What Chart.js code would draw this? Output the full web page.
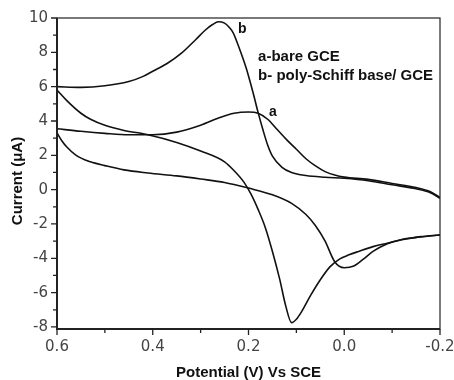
<!DOCTYPE html>
<html>
<head>
<meta charset="utf-8">
<script src="https://cdn.jsdelivr.net/npm/chart.js@4.4.0/dist/chart.umd.min.js"></script>
<style>
  html, body { margin: 0; padding: 0; background: #fff; }
</style>
</head>
<body>
<canvas id="cv" width="454" height="380"></canvas>
<script>
// a - bare GCE, forward sweep (upper branch)
const potA1 = [0.60, 0.55, 0.50, 0.45, 0.40, 0.35, 0.30, 0.26, 0.23, 0.20, 0.18, 0.16, 0.14, 0.12, 0.10, 0.08, 0.06, 0.04, 0.02, 0.00, -0.05, -0.10, -0.15, -0.18, -0.20];
const curA1 = [3.55, 3.40, 3.28, 3.20, 3.20, 3.35, 3.75, 4.20, 4.45, 4.52, 4.45, 4.10, 3.50, 2.90, 2.35, 1.80, 1.38, 1.05, 0.85, 0.73, 0.60, 0.36, 0.12, -0.12, -0.45];
// a - bare GCE, reverse sweep (lower branch)
const potA2 = [0.60, 0.59, 0.58, 0.56, 0.53, 0.50, 0.46, 0.41, 0.35, 0.30, 0.25, 0.20, 0.15, 0.11, 0.08, 0.06, 0.04, 0.02, 0.00, -0.02, -0.04, -0.06, -0.09, -0.12, -0.15, -0.20];
const curA2 = [3.30, 2.85, 2.50, 2.00, 1.62, 1.40, 1.15, 0.97, 0.80, 0.62, 0.42, 0.09, -0.30, -0.80, -1.45, -2.10, -3.00, -4.20, -4.55, -4.45, -4.05, -3.60, -3.15, -2.90, -2.78, -2.64];
// b - poly-Schiff base/GCE, forward sweep
const potB1 = [0.60, 0.55, 0.50, 0.45, 0.42, 0.40, 0.37, 0.34, 0.31, 0.29, 0.275, 0.263, 0.25, 0.24, 0.232, 0.22, 0.205, 0.19, 0.18, 0.17, 0.16, 0.15, 0.13, 0.11, 0.08, 0.04, 0.00, -0.05, -0.10, -0.15, -0.18, -0.20];
const curB1 = [6.00, 5.96, 6.05, 6.30, 6.60, 6.90, 7.35, 7.95, 8.75, 9.30, 9.62, 9.78, 9.70, 9.45, 9.14, 8.30, 7.10, 5.60, 4.50, 3.50, 2.60, 1.95, 1.30, 1.00, 0.82, 0.72, 0.66, 0.52, 0.28, 0.05, -0.18, -0.50];
// b - poly-Schiff base/GCE, reverse sweep
const potB2 = [0.60, 0.58, 0.55, 0.53, 0.50, 0.46, 0.41, 0.35, 0.30, 0.25, 0.23, 0.21, 0.195, 0.18, 0.165, 0.15, 0.135, 0.122, 0.11, 0.10, 0.09, 0.07, 0.05, 0.03, 0.01, -0.01, -0.03, -0.06, -0.09, -0.12, -0.16, -0.20];
const curB2 = [5.80, 5.20, 4.45, 4.10, 3.75, 3.45, 3.20, 2.75, 2.25, 1.62, 1.10, 0.45, -0.25, -1.15, -2.20, -3.60, -5.20, -6.80, -7.75, -7.55, -7.15, -6.15, -5.25, -4.50, -4.05, -3.80, -3.60, -3.32, -3.12, -2.92, -2.74, -2.64];

const xTicks = [0.6, 0.4, 0.2, 0.0, -0.2];
const xMinor = [0.5, 0.3, 0.1, -0.1];
const yTicks = [-8, -6, -4, -2, 0, 2, 4, 6, 8, 10];
const yMinor = [-7, -5, -3, -1, 1, 3, 5, 7, 9];

const ink = '#111';

function pts(xs, ys) {
  return xs.map((x, i) => ({ x: x, y: ys[i] }));
}

function curve(xs, ys) {
  return {
    data: pts(xs, ys),
    showLine: true,
    borderColor: ink,
    borderWidth: 1.6,
    pointRadius: 0,
    fill: false,
    cubicInterpolationMode: 'monotone'
  };
}

// frame, minor ticks, titles and labels
const decorations = {
  id: 'decorations',
  afterDraw(chart) {
    const ctx = chart.ctx;
    const area = chart.chartArea;
    const xs = chart.scales.x;
    const ys = chart.scales.y;

    ctx.save();
    ctx.strokeStyle = '#222';
    ctx.lineWidth = 1.2;
    ctx.strokeRect(area.left, area.top, area.right - area.left, area.bottom - area.top);
    ctx.lineWidth = 2;
    ctx.beginPath();
    ctx.moveTo(area.left, area.top);
    ctx.lineTo(area.left, area.bottom);
    ctx.lineTo(area.right, area.bottom);
    ctx.stroke();

    ctx.lineWidth = 1.3;
    ctx.beginPath();
    xTicks.forEach(v => { const p = xs.getPixelForValue(v); ctx.moveTo(p, area.bottom); ctx.lineTo(p, area.bottom + 6); });
    xMinor.forEach(v => { const p = xs.getPixelForValue(v); ctx.moveTo(p, area.bottom); ctx.lineTo(p, area.bottom + 4); });
    yTicks.forEach(v => { const p = ys.getPixelForValue(v); ctx.moveTo(area.left, p); ctx.lineTo(area.left - 6, p); });
    yMinor.forEach(v => { const p = ys.getPixelForValue(v); ctx.moveTo(area.left, p); ctx.lineTo(area.left - 4, p); });
    ctx.stroke();

    ctx.fillStyle = '#111';
    ctx.font = 'bold 15px "Liberation Sans", Arial, sans-serif';
    ctx.textBaseline = 'alphabetic';
    ctx.textAlign = 'center';
    ctx.fillText('Potential (V) Vs SCE', (area.left + area.right) / 2, 377);

    ctx.save();
    ctx.translate(22, 181);
    ctx.rotate(-Math.PI / 2);
    ctx.fillText('Current (\u03bcA)', 0, 0);
    ctx.restore();

    ctx.textAlign = 'left';
    ctx.font = 'bold 14px "Liberation Sans", Arial, sans-serif';
    ctx.fillText('b', xs.getPixelForValue(0.222), ys.getPixelForValue(9.15));
    ctx.fillText('a', xs.getPixelForValue(0.157), ys.getPixelForValue(4.31));
    ctx.font = 'bold 15px "Liberation Sans", Arial, sans-serif';
    ctx.fillText('a-bare GCE', xs.getPixelForValue(0.18), ys.getPixelForValue(7.49));
    ctx.fillText('b- poly-Schiff base/ GCE', xs.getPixelForValue(0.18), ys.getPixelForValue(6.41));
    ctx.restore();
  }
};

const tickFont = { family: '"DejaVu Sans", sans-serif', size: 15 };

new Chart(document.getElementById('cv'), {
  type: 'scatter',
  data: {
    datasets: [
      curve(potA1, curA1),
      curve(potA2, curA2),
      curve(potB1, curB1),
      curve(potB2, curB2)
    ]
  },
  options: {
    responsive: false,
    animation: false,
    devicePixelRatio: 1,
    layout: { padding: { top: 18, right: 14, left: 0, bottom: 0 } },
    plugins: {
      legend: { display: false },
      tooltip: { enabled: false }
    },
    scales: {
      x: {
        type: 'linear',
        reverse: true,
        min: -0.2,
        max: 0.6,
        afterBuildTicks: s => { s.ticks = xTicks.map(v => ({ value: v })); },
        afterFit: s => { s.height = 51; s.paddingLeft = 0; s.paddingRight = 0; },
        ticks: {
          callback: v => v.toFixed(1),
          font: tickFont,
          color: '#444',
          padding: 9,
          maxRotation: 0,
          autoSkip: false
        },
        grid: { display: false, drawTicks: false },
        border: { display: false }
      },
      y: {
        type: 'linear',
        min: -8.12,
        max: 10,
        afterBuildTicks: s => { s.ticks = yTicks.map(v => ({ value: v })); },
        afterFit: s => { s.width = 57; s.paddingTop = 0; s.paddingBottom = 0; },
        ticks: {
          callback: v => String(v),
          font: tickFont,
          color: '#444',
          padding: 9,
          autoSkip: false
        },
        grid: { display: false, drawTicks: false },
        border: { display: false }
      }
    }
  },
  plugins: [decorations]
});
</script>
</body>
</html>
